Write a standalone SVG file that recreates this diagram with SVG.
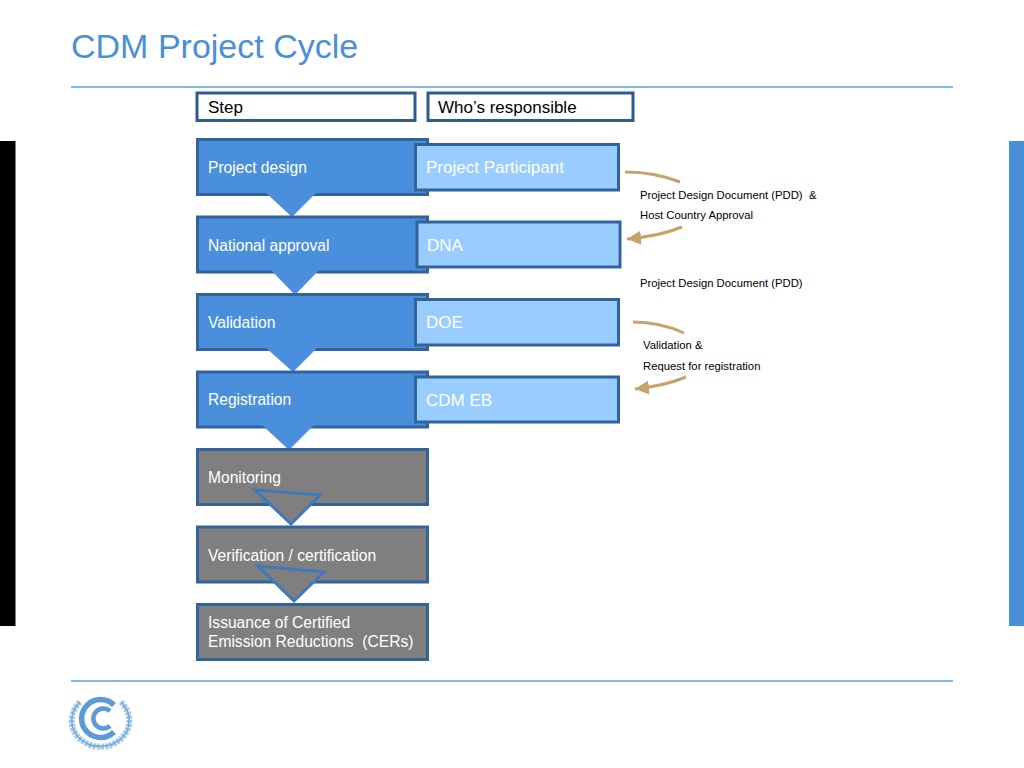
<svg xmlns="http://www.w3.org/2000/svg" width="1024" height="768" viewBox="0 0 1024 768">
<style>
text{font-family:"Liberation Sans",Arial,sans-serif;white-space:pre}
.hdr rect{fill:#fff;stroke:#2f5c8f;stroke-width:3}
.hdr text{font-size:17px;fill:#000}
.step{fill:#4a8fdc;stroke:#33639b;stroke-width:3}
.grey{fill:#7f7f7f;stroke:#33639b;stroke-width:3}
.tri{fill:#4a8fdc}
.tri2{fill:#7f7f7f;stroke:#3f78bd;stroke-width:3}
.lab{font-size:15.600px;fill:#fff}
.who{fill:#99ccff;stroke:#33639b;stroke-width:3}
.wlab{font-size:17px;fill:#fff}
.note{font-size:11.300px;fill:#000}
.rule{stroke:#5ba3e0;stroke-width:1.500}
.cur{fill:none;stroke:#c8a26b;stroke-width:3}
.wreath{fill:none;stroke:#a5c8e8;stroke-width:6;stroke-dasharray:3 1}
.stem{fill:none;stroke:#6fa8dc;stroke-width:1.500}
.ring{fill:none;stroke:#5b9bd5}
</style>
<defs>
<marker id="head" markerUnits="userSpaceOnUse" markerWidth="16" markerHeight="14" refX="14" refY="7" orient="auto"><path d="M0 0L14 7L0 14Z" fill="#c8a26b"/></marker>
</defs>
<rect x="0" y="141" width="15.500" height="485" fill="#000"/>
<rect x="1009" y="141" width="15" height="485" fill="#4a90d9"/>
<text x="71" y="58" font-size="34" fill="#4a90d9">CDM Project Cycle</text>
<line class="rule" x1="71" y1="87" x2="953" y2="87"/>
<line class="rule" x1="71" y1="681" x2="953" y2="681"/>

<g id="hdr-step" class="hdr"><rect x="197" y="93" width="218" height="27.500"/><text x="208" y="113">Step</text></g>
<g id="hdr-who" class="hdr"><rect x="428" y="93" width="205" height="27.500"/><text x="438" y="113">Who’s responsible</text></g>

<g id="step-design"><rect class="step" x="197.500" y="139.500" width="230" height="55"/><path class="tri" d="M265 192L317 192L292 217Z"/><text class="lab" x="208" y="172.500">Project design</text></g>
<g id="step-approval"><rect class="step" x="197.500" y="217" width="230" height="55"/><path class="tri" d="M270 269L320 269L295 295Z"/><text class="lab" x="208" y="250.500">National approval</text></g>
<g id="step-validation"><rect class="step" x="197.500" y="294.500" width="230" height="55"/><path class="tri" d="M265 347L318 347L293 372Z"/><text class="lab" x="208" y="327.500">Validation</text></g>
<g id="step-registration"><rect class="step" x="197.500" y="372" width="230" height="55"/><path class="tri" d="M261 424L315 424L289 450Z"/><text class="lab" x="208" y="405">Registration</text></g>
<g id="step-monitoring"><rect class="grey" x="197.500" y="449.500" width="230" height="55"/><path class="tri2" d="M255 490L320 495L291 524Z"/><text class="lab" x="208" y="483">Monitoring</text></g>
<g id="step-verification"><rect class="grey" x="197.500" y="527" width="230" height="55"/><path class="tri2" d="M258 566L324 572L294 601Z"/><text class="lab" x="208" y="560.500">Verification / certification</text></g>
<g id="step-issuance"><rect class="grey" x="197.500" y="604.500" width="230" height="55"/><text class="lab" x="208" y="628">Issuance of Certified</text><text class="lab" x="208" y="647">Emission Reductions  (CERs)</text></g>

<g id="who-pp"><rect class="who" x="415.500" y="144.500" width="203" height="45.500"/><text class="wlab" x="426" y="173">Project Participant</text></g>
<g id="who-dna"><rect class="who" x="417" y="222" width="203" height="45"/><text class="wlab" x="427" y="250.500">DNA</text></g>
<g id="who-doe"><rect class="who" x="415.500" y="299.500" width="203" height="45.500"/><text class="wlab" x="426" y="328">DOE</text></g>
<g id="who-eb"><rect class="who" x="415.500" y="377" width="203" height="45"/><text class="wlab" x="426" y="405.500">CDM EB</text></g>

<g id="connectors">
<path class="cur" d="M625 172Q655 172 680 182"/>
<path class="cur" d="M682 227Q660 236 627 239" marker-end="url(#head)"/>
<path class="cur" d="M633 322Q660 322 684 333"/>
<path class="cur" d="M686 377Q664 386 635 389" marker-end="url(#head)"/>
</g>

<g id="notes">
<text class="note" x="640" y="199">Project Design Document (PDD)  &amp;</text>
<text class="note" x="640" y="219">Host Country Approval</text>
<text class="note" x="640" y="287">Project Design Document (PDD)</text>
<text class="note" x="643" y="349">Validation &amp;</text>
<text class="note" x="643" y="370">Request for registration</text>
</g>

<g id="logo">
<path class="wreath" d="M80 702C67 715 69 735 88 744C94 747 98 747 101 746"/>
<path class="wreath" d="M121 702C134 715 132 735 113 744C107 747 103 747 101 746"/>
<path class="stem" d="M80 702C67 715 69 735 88 744C94 747 106 747 113 744C132 735 134 715 121 702"/>
<path class="ring" d="M114 705A19 19 0 1 0 114 732" stroke-width="5.500"/>
<path class="ring" d="M110 711A10 10 0 1 0 110 726" stroke-width="4.500"/>
</g>
</svg>
